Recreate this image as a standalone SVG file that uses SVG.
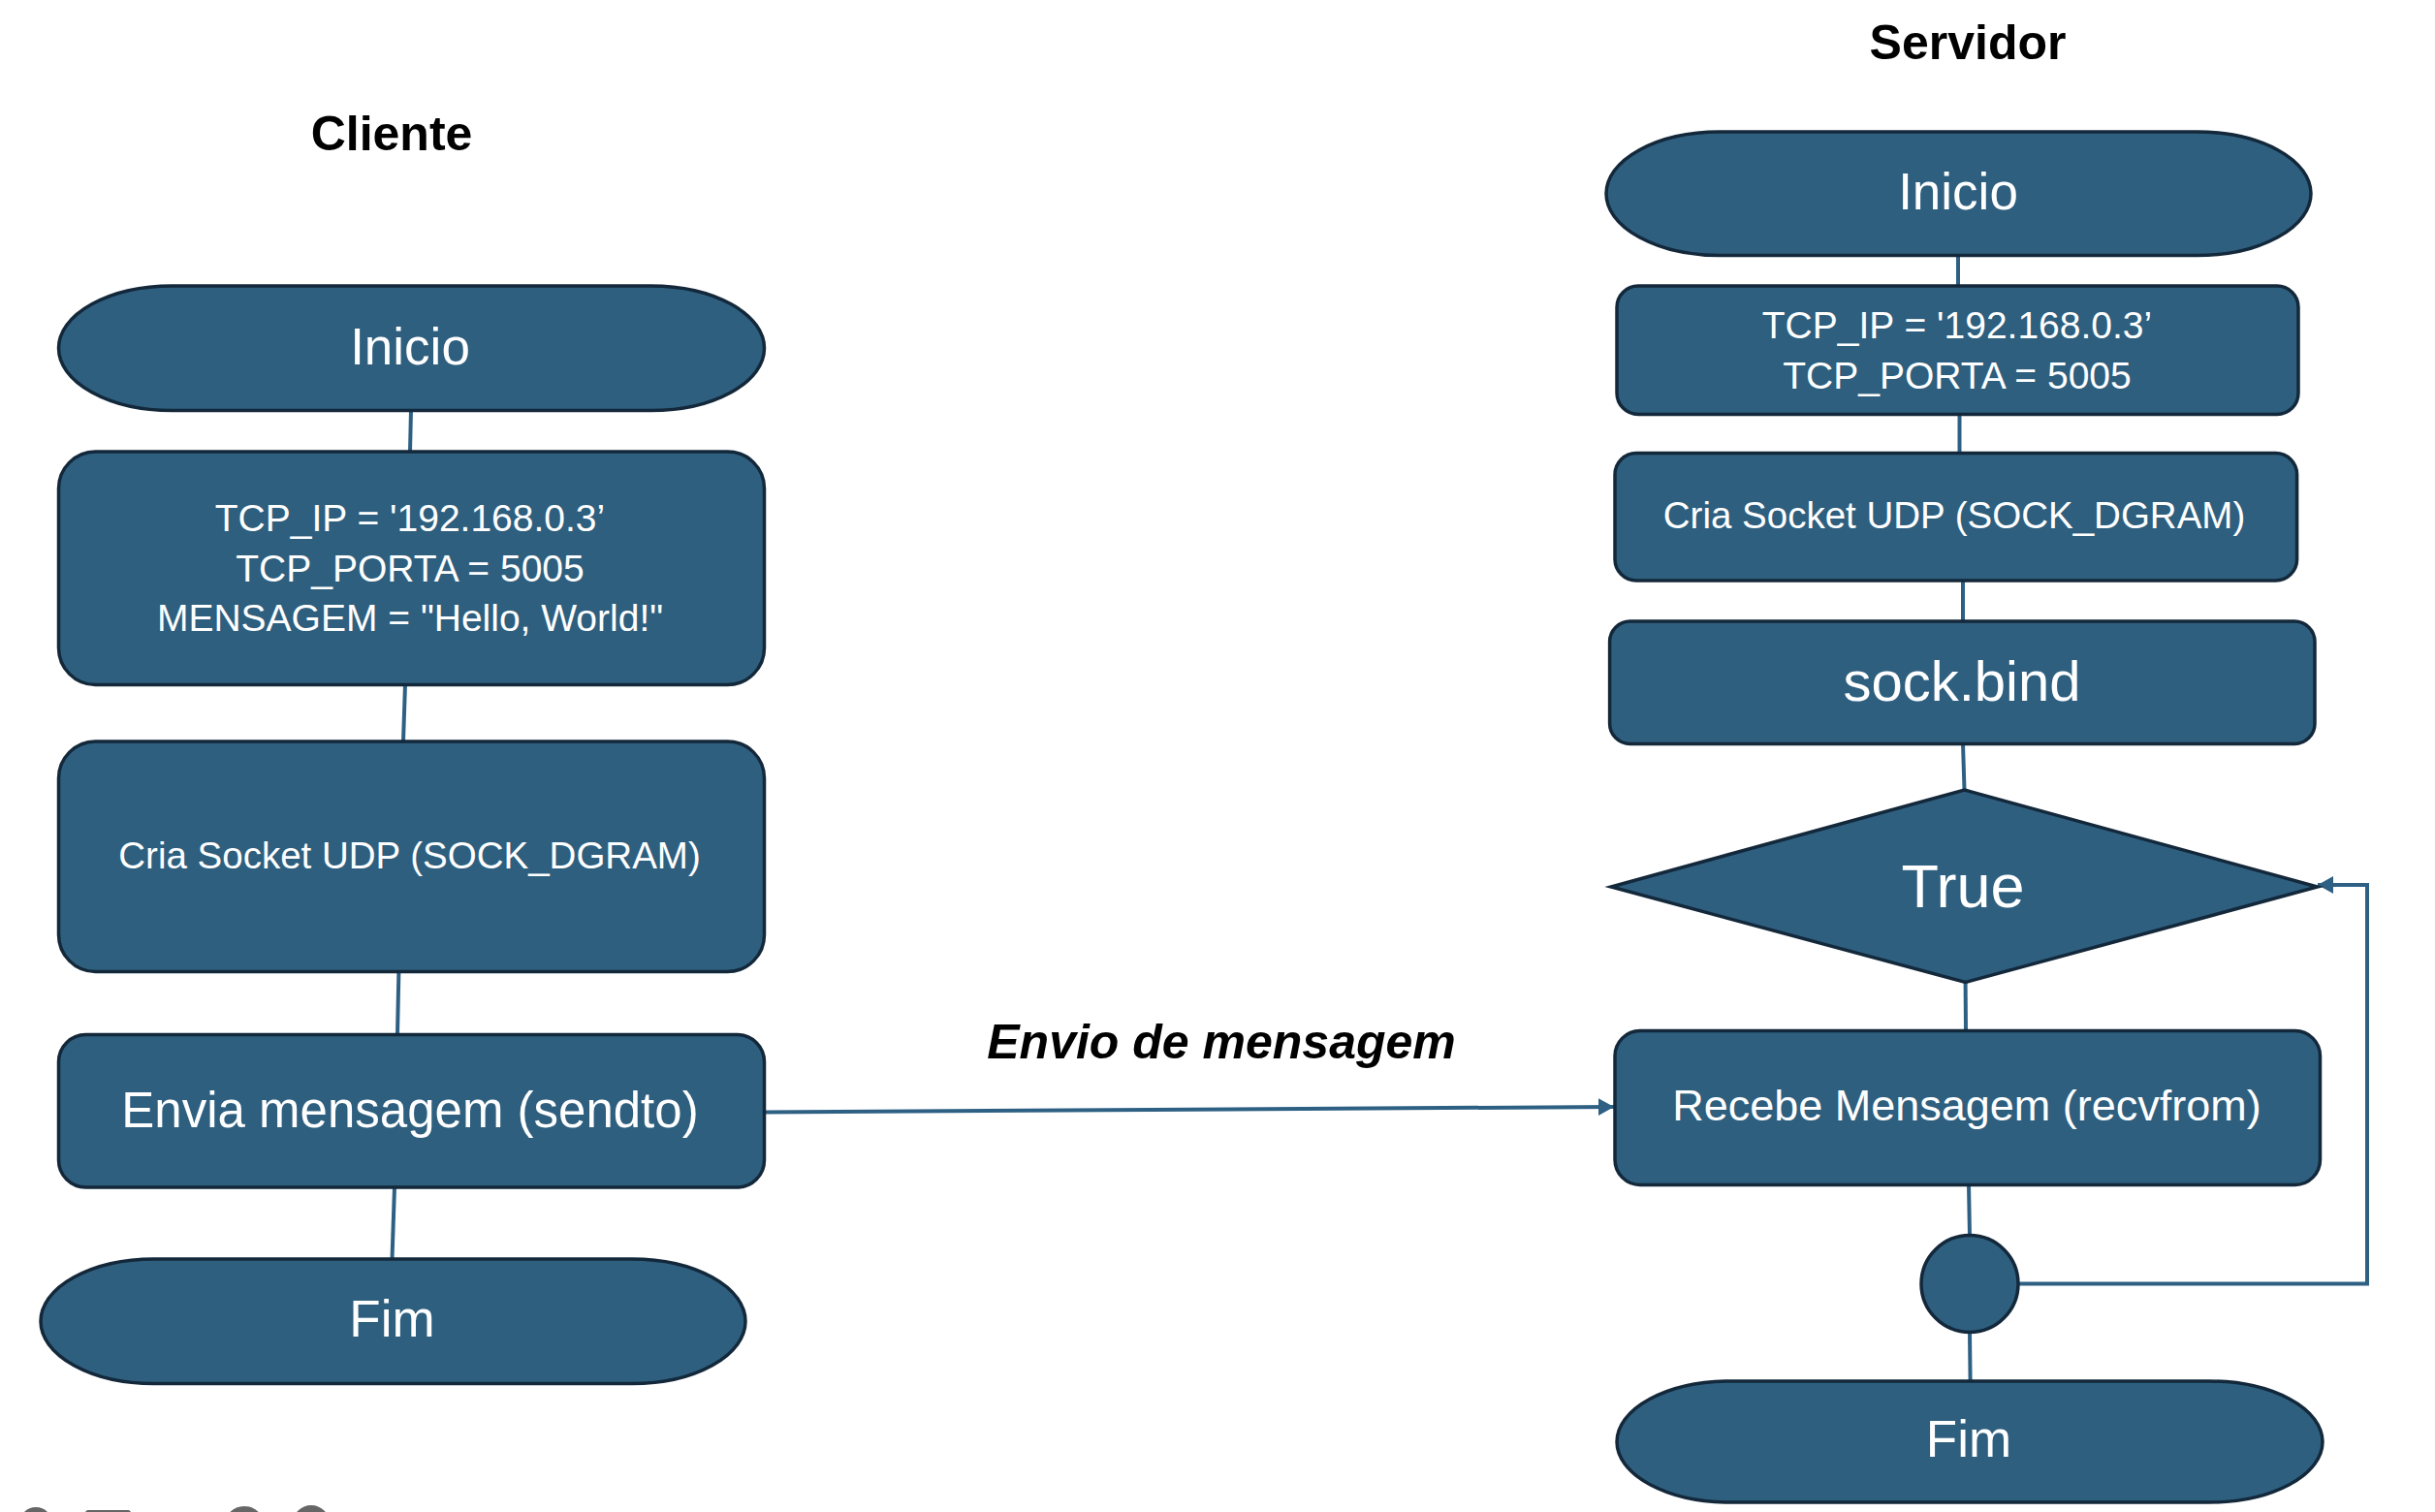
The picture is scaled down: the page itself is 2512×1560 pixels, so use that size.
<svg xmlns="http://www.w3.org/2000/svg" width="2512" height="1560" viewBox="0 0 2512 1560">
<style>
.node{fill:#2E5F7F;stroke:#13283A;stroke-width:3.5}
.lbl{fill:#FFFFFF;font-family:"Liberation Sans",Arial,sans-serif;text-anchor:middle}
.title{fill:#000000;font-family:"Liberation Sans",Arial,sans-serif;font-weight:bold;text-anchor:middle}
.conn{fill:none;stroke:#2E6084;stroke-width:4}
.ui{fill:#666666}
</style>
<defs>
<marker id="arrow" markerUnits="userSpaceOnUse" markerWidth="17" markerHeight="19" refX="16" refY="9" orient="auto">
<path d="M0,0 L16,9 L0,18 z" fill="#2E6084"/>
</marker>
</defs>
<rect width="2512" height="1560" fill="#FFFFFF"/>

<text class="title" x="404" y="155" font-size="50">Cliente</text>
<text class="title" x="2030" y="61" font-size="50">Servidor</text>
<text class="title" x="1260" y="1092" font-size="50" font-style="italic">Envio de mensagem</text>

<g id="connectors">
<path class="conn" d="M424,423 L423,466"/>
<path class="conn" d="M418,706 L416,765"/>
<path class="conn" d="M411.4,1002 L410,1067.5"/>
<path class="conn" d="M407,1225 L404.5,1299"/>
<path class="conn" d="M789,1147.5 L1665,1142" marker-end="url(#arrow)"/>
<path class="conn" d="M2020,263 L2020,295"/>
<path class="conn" d="M2021.5,427 L2021.5,467.5"/>
<path class="conn" d="M2025,599 L2025,641"/>
<path class="conn" d="M2025,767 L2026.5,815"/>
<path class="conn" d="M2027.6,1013 L2028,1063.5"/>
<path class="conn" d="M2031,1222 L2032,1275"/>
<path class="conn" d="M2082,1324.5 L2442,1324.5 L2442,913 L2391,913" marker-end="url(#arrow)"/>
<path class="conn" d="M2032,1374 L2032.6,1425"/>
</g>

<g id="cliente-inicio">
<rect class="node" x="60.5" y="295" width="728" height="128.5" rx="117" ry="64.25"/>
<text class="lbl" x="423" y="376" font-size="53">Inicio</text>
</g>
<g id="cliente-vars">
<rect class="node" x="60.5" y="466" width="728" height="240.5" rx="38" ry="38"/>
<text class="lbl" x="423" y="548" font-size="39">TCP_IP = '192.168.0.3’</text>
<text class="lbl" x="423" y="600" font-size="39">TCP_PORTA = 5005</text>
<text class="lbl" x="423" y="651" font-size="39">MENSAGEM = "Hello, World!"</text>
</g>
<g id="cliente-socket">
<rect class="node" x="60.5" y="765" width="728" height="237.5" rx="38" ry="38"/>
<text class="lbl" x="422.5" y="896" font-size="38.5">Cria Socket UDP (SOCK_DGRAM)</text>
</g>
<g id="cliente-envia">
<rect class="node" x="60.5" y="1067.5" width="728" height="157.5" rx="28" ry="28"/>
<text class="lbl" x="423" y="1162.5" font-size="51">Envia mensagem (sendto)</text>
</g>
<g id="cliente-fim">
<rect class="node" x="42" y="1299" width="727" height="128.5" rx="117" ry="64.25"/>
<text class="lbl" x="404.5" y="1379" font-size="53">Fim</text>
</g>

<g id="servidor-inicio">
<rect class="node" x="1657" y="136" width="727" height="127.5" rx="117" ry="63.75"/>
<text class="lbl" x="2020" y="216" font-size="53">Inicio</text>
</g>
<g id="servidor-vars">
<rect class="node" x="1668" y="295" width="703" height="132.5" rx="22" ry="22"/>
<text class="lbl" x="2019" y="348.5" font-size="39">TCP_IP = '192.168.0.3’</text>
<text class="lbl" x="2019" y="401" font-size="39">TCP_PORTA = 5005</text>
</g>
<g id="servidor-socket">
<rect class="node" x="1666" y="467.5" width="703.6" height="131.5" rx="22" ry="22"/>
<text class="lbl" x="2016" y="545" font-size="38.5">Cria Socket UDP (SOCK_DGRAM)</text>
</g>
<g id="servidor-bind">
<rect class="node" x="1660.6" y="641" width="727.4" height="126.5" rx="21" ry="21"/>
<text class="lbl" x="2024" y="722.5" font-size="58">sock.bind</text>
</g>
<g id="servidor-true">
<polygon class="node" points="2026.5,815 2390.7,915 2027.6,1013.5 1662,915" stroke-width="4.5" stroke="#0D2233"/>
<text class="lbl" x="2025" y="936" font-size="63">True</text>
</g>
<g id="servidor-recebe">
<rect class="node" x="1666" y="1063.5" width="727.5" height="159" rx="26" ry="26"/>
<text class="lbl" x="2029" y="1156" font-size="45">Recebe Mensagem (recvfrom)</text>
</g>
<g id="servidor-juncao">
<circle class="node" cx="2032" cy="1324.5" r="50"/>
</g>
<g id="servidor-fim">
<rect class="node" x="1668" y="1425" width="728" height="125" rx="117" ry="62.5"/>
<text class="lbl" x="2031" y="1502.5" font-size="53">Fim</text>
</g>

<circle class="ui" cx="37" cy="1572" r="17"/>
<rect class="ui" x="88" y="1558" width="47" height="20" rx="3"/>
<circle class="ui" cx="252" cy="1575" r="21"/>
<circle class="ui" cx="321" cy="1572" r="20" stroke="#FFFFFF" stroke-width="2"/>
</svg>
